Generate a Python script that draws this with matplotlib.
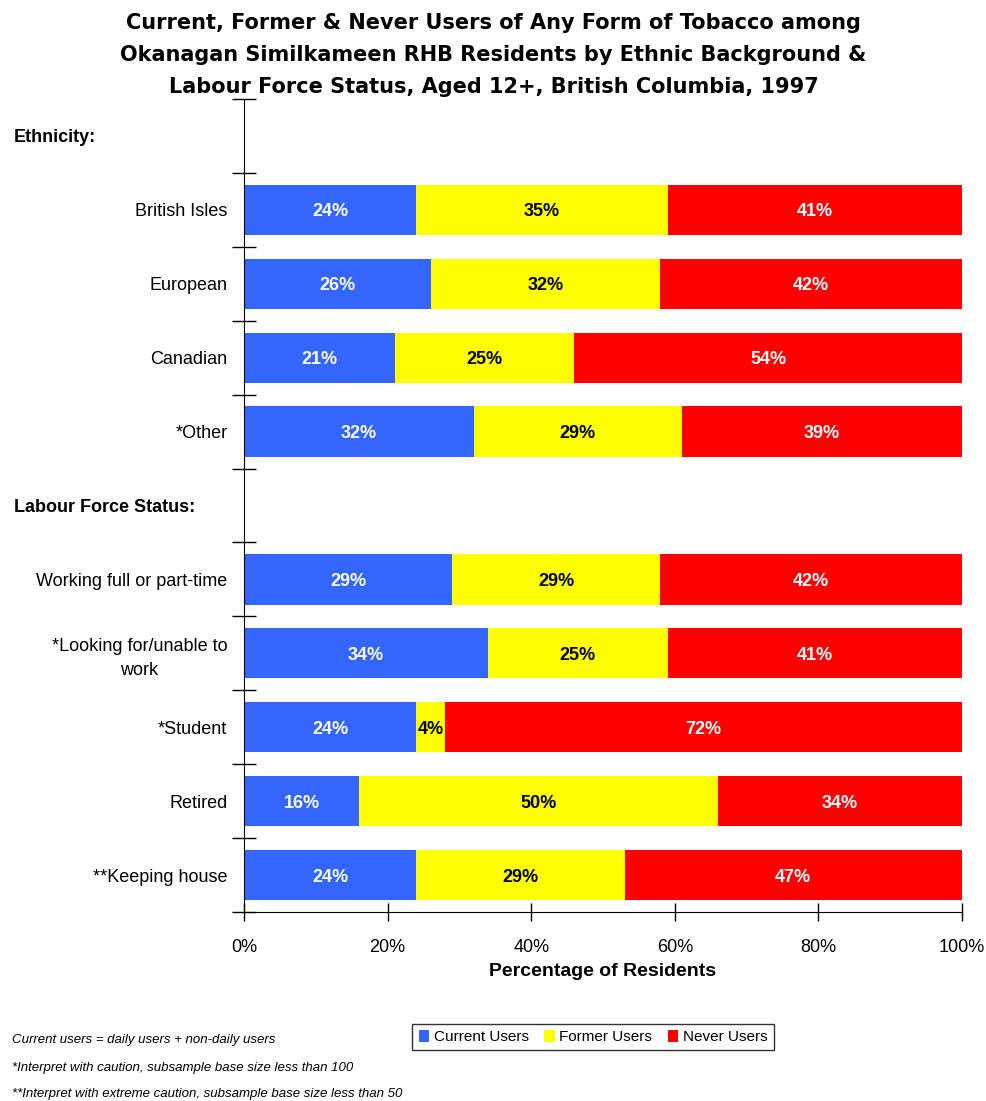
import matplotlib.pyplot as plt
import numpy as np

plt.rcParams['font.family'] = ['Liberation Sans', 'DejaVu Sans']

# data
categories = ['British Isles', 'European', 'Canadian', '*Other',
              'Working full or part-time', '*Looking for/unable to\nwork',
              '*Student', 'Retired', '**Keeping house']
current = [24, 26, 21, 32, 29, 34, 24, 16, 24]
former = [35, 32, 25, 29, 29, 25, 4, 50, 29]
never = [41, 42, 54, 39, 42, 41, 72, 34, 47]
headers = ['Ethnicity:', 'Labour Force Status:']
series_names = ['Current Users', 'Former Users', 'Never Users']
colors = ['#3366FF', '#FFFF00', '#FF0000']
text_colors = ['white', 'black', 'white']

# slot positions: header rows at 0 and 5
ypos = np.array([1, 2, 3, 4, 6, 7, 8, 9, 10])
header_pos = [0, 5]

fig = plt.figure(figsize=(9.87, 11.01), dpi=100)
ax = fig.add_axes([244/987, 1-912/1101, (962-244)/987, (912-99)/1101])

left = np.zeros(len(categories))
for vals, col, tc, name in zip([current, former, never], colors, text_colors, series_names):
    vals = np.array(vals)
    bars = ax.barh(ypos, vals, left=left, height=0.68, color=col, label=name)
    for b, v in zip(bars, vals):
        ax.text(b.get_x() + b.get_width()/2, b.get_y() + b.get_height()/2, f'{v}%',
                ha='center', va='center_baseline', color=tc, fontsize=13, fontweight='bold')
    left += vals

ax.set_xlim(0, 100)
ax.set_ylim(10.5, -0.5)
ax.set_xticks(np.arange(0, 101, 20))
ax.set_xticklabels([f'{x}%' for x in range(0, 101, 20)], fontsize=13)
ax.tick_params(axis='x', direction='inout', length=13, width=1, pad=13)

ax.set_yticks(np.arange(-0.5, 11, 1))
ax.set_yticklabels([])
ax.tick_params(axis='y', which='major', direction='inout', length=17, width=1)
ax.set_yticks(ypos, minor=True)
ax.set_yticklabels(categories, minor=True, fontsize=13)
ax.tick_params(axis='y', which='minor', length=0, pad=12)
for lab in ax.get_yticklabels(minor=True):
    lab.set_multialignment('center')
    lab.set_linespacing(1.55)
    lab.set_verticalalignment('center_baseline')

for h, p in zip(headers, header_pos):
    ax.text(14/987, ax.transData.transform((0, p))[1] / fig.bbox.height, h,
            transform=fig.transFigure, ha='left', va='center_baseline', fontsize=13, fontweight='bold')

ax.spines['top'].set_visible(False)
ax.spines['right'].set_visible(False)
ax.set_xlabel('Percentage of Residents', fontsize=14, fontweight='bold', labelpad=5)

fig.suptitle('Current, Former & Never Users of Any Form of Tobacco among\n'
             'Okanagan Similkameen RHB Residents by Ethnic Background &\n'
             'Labour Force Status, Aged 12+, British Columbia, 1997',
             x=0.5, y=0.988, fontsize=15, fontweight='bold', linespacing=1.75,
             family=['DejaVu Sans'])

leg = fig.legend(loc='center', bbox_to_anchor=(593/987, 1-1037/1101), ncol=3,
                 fontsize=11, frameon=True, fancybox=False, edgecolor='black',
                 handlelength=0.7, handleheight=0.9, handletextpad=0.3, columnspacing=1.0,
                 borderpad=0.4)
leg.get_frame().set_linewidth(1)

notes = ['Current users = daily users + non-daily users',
         '*Interpret with caution, subsample base size less than 100',
         '**Interpret with extreme caution, subsample base size less than 50']
for note, y in zip(notes, [1040, 1068, 1094]):
    fig.text(12/987, 1-y/1101, note, fontsize=9.5, style='italic', ha='left', va='center')

fig.savefig('out.png', dpi=100)
